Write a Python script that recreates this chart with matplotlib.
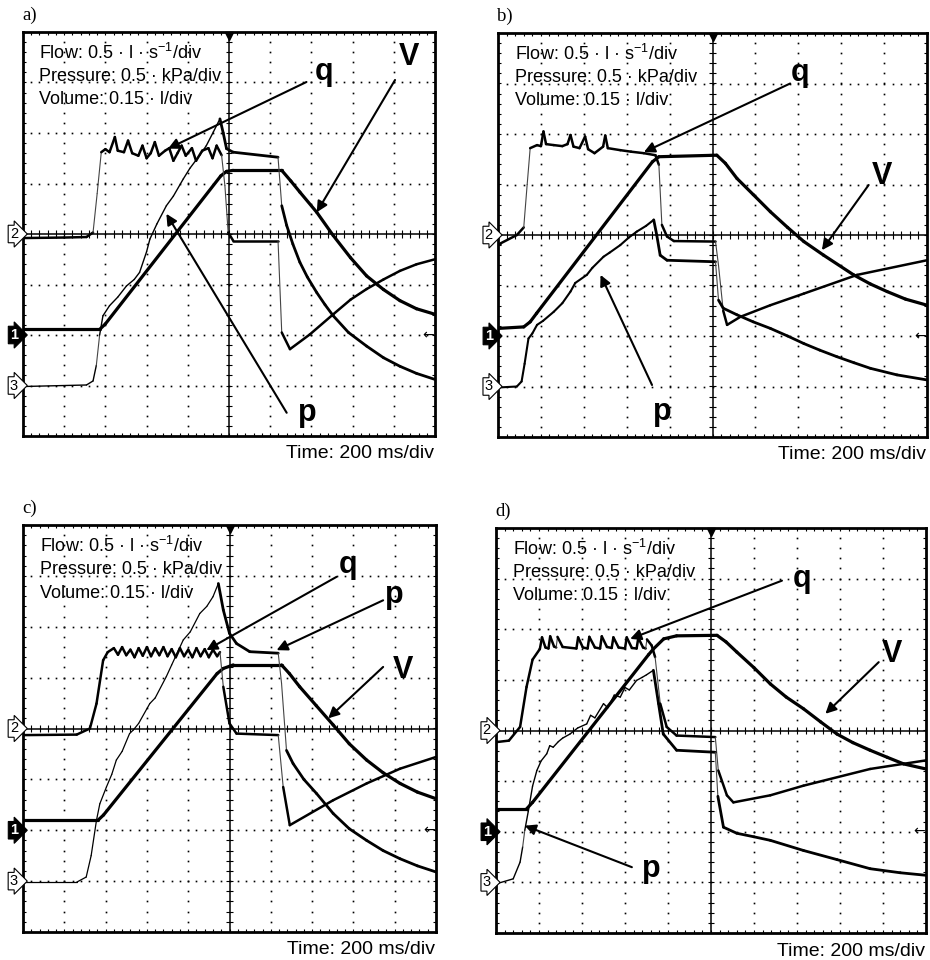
import numpy as np
import matplotlib
matplotlib.use("Agg")
import matplotlib.pyplot as plt
from matplotlib.collections import LineCollection
from matplotlib.transforms import blended_transform_factory

plt.rcParams['font.family'] = ['Liberation Sans', 'DejaVu Sans']
plt.rcParams['mathtext.fontset'] = 'custom'
plt.rcParams['mathtext.rm'] = 'Liberation Sans'
plt.rcParams['mathtext.it'] = 'Liberation Sans:italic'
plt.rcParams['mathtext.bf'] = 'Liberation Sans:bold'

# ---------------- data (time and signal in screen divisions) ----------------
panel_letters = ["a)", "b)", "c)", "d)"]
info_lines = ["Flow: 0.5 · l · s$^{-1}$/div", "Pressure: 0.5 · kPa/div", "Volume: 0.15 · l/div"]
time_label = "Time: 200 ms/div"
channel_labels = ["2", "1", "3"]
channel_levels = [0.0, -2.0, -3.0]

# panel a
a_q_t = [0, 1.0, 1.54, 1.70, 1.80, 1.90, 2.0, 2.1, 2.23, 2.3, 2.45, 2.55, 2.65, 2.8, 2.9, 3.0,
         3.1, 3.2, 3.3, 3.45, 3.55, 3.65, 3.75, 3.85, 3.95, 4.1, 4.2, 4.35, 4.5, 4.6, 4.7, 4.82,
         4.9, 4.98, 5.1, 6.19, 6.28, 6.48, 6.96, 7.53, 7.95, 8.34, 8.75, 9.15, 9.55, 10.0]
a_q = [-0.08, -0.07, -0.06, 0.03, 0.8, 1.62, 1.68, 1.62, 1.92, 1.65, 1.62, 1.85, 1.6, 1.55, 1.75, 1.5,
       1.6, 1.82, 1.55, 1.65, 1.7, 1.45, 1.6, 1.75, 1.55, 1.7, 1.45, 1.65, 1.7, 1.5, 1.75, 1.56,
       0.96, 0.03, -0.13, -0.13, -1.95, -2.28, -1.99, -1.59, -1.3, -1.09, -0.9, -0.73, -0.6, -0.5]
a_p_t = [0, 1.54, 1.70, 1.78, 1.86, 1.94, 2.1, 2.3, 2.51, 2.7, 2.83, 3.0, 3.08, 3.25, 3.48, 3.65,
         3.89, 4.05, 4.29, 4.45, 4.62, 4.78, 4.86, 4.94, 5.1, 6.19, 6.28, 6.4, 6.55, 6.72, 6.9,
         7.13, 7.33, 7.53, 7.9, 8.34, 8.75, 9.15, 9.55, 10.0]
a_p = [-3.02, -2.99, -2.91, -2.6, -2.0, -1.62, -1.42, -1.25, -1.03, -0.9, -0.76, -0.35, -0.1, 0.2,
       0.56, 0.75, 1.09, 1.3, 1.56, 1.75, 2.02, 2.28, 2.0, 1.69, 1.62, 1.52, 0.56, 0.17, -0.2,
       -0.56, -0.85, -1.16, -1.4, -1.62, -1.95, -2.22, -2.45, -2.62, -2.76, -2.88]
a_V_t = [0, 1.86, 2.0, 4.8, 4.94, 5.1, 6.28, 6.5, 6.72, 7.13, 7.53, 7.95, 8.34, 8.75, 9.15, 9.55, 10.0]
a_V = [-1.89, -1.89, -1.78, 1.15, 1.24, 1.26, 1.26, 1.05, 0.83, 0.43, -0.03, -0.47, -0.83, -1.1,
       -1.32, -1.48, -1.59]

# panel b
b_q_t = [0, 0.05, 0.44, 0.6, 0.68, 0.75, 0.91, 1.0, 1.06, 1.12, 1.3, 1.5, 1.62, 1.69, 1.76, 1.9,
         2.03, 2.1, 2.25, 2.45, 2.5, 2.56, 2.85, 3.1, 3.4, 3.67, 3.75, 3.82, 3.94, 4.1, 5.07, 5.14,
         5.25, 5.34, 5.65, 6.35, 7.13, 8.37, 10.0]
b_q = [-0.17, -0.17, 0.0, 0.15, 1.0, 1.72, 1.78, 1.76, 2.05, 1.8, 1.78, 1.76, 1.8, 1.98, 1.75, 1.72,
       1.95, 1.7, 1.62, 1.75, 1.97, 1.72, 1.68, 1.65, 1.62, 1.58, 1.39, 0.2, -0.03, -0.12, -0.13,
       -0.6, -1.5, -1.78, -1.62, -1.39, -1.16, -0.79, -0.5]
b_p_t = [0, 0.44, 0.55, 0.62, 0.71, 0.8, 0.91, 1.05, 1.3, 1.5, 1.69, 1.8, 2.07, 2.2, 2.46, 2.6,
         2.85, 3.05, 3.24, 3.45, 3.63, 3.7, 3.78, 3.94, 5.07, 5.14, 5.25, 5.57, 5.95, 6.35, 6.75,
         7.13, 7.5, 7.9, 8.3, 8.68, 9.3, 10.0]
b_p = [-3.02, -3.0, -2.9, -2.55, -2.05, -1.95, -1.78, -1.7, -1.52, -1.35, -1.12, -0.95, -0.79,
       -0.65, -0.43, -0.35, -0.2, -0.05, 0.07, 0.18, 0.3, 0.0, -0.4, -0.5, -0.53, -1.29, -1.45,
       -1.58, -1.72, -1.85, -2.0, -2.15, -2.28, -2.41, -2.53, -2.64, -2.77, -2.87]
b_V_t = [0, 0.6, 0.75, 0.9, 3.6, 3.75, 5.1, 5.3, 5.57, 5.95, 6.35, 6.75, 7.13, 7.59, 8.29, 8.68,
         9.07, 9.5, 10.0]
b_V = [-1.85, -1.82, -1.72, -1.55, 1.45, 1.55, 1.58, 1.42, 1.12, 0.8, 0.46, 0.15, -0.13, -0.4,
       -0.79, -0.97, -1.12, -1.27, -1.39]

# panel c
c_q_t = [0, 1.3, 1.62, 1.78, 1.94, 2.05, 2.2, 2.3, 2.4, 2.5, 2.6, 2.7, 2.8, 2.9, 3.0, 3.1, 3.2,
         3.3, 3.4, 3.5, 3.6, 3.7, 3.8, 3.9, 4.0, 4.1, 4.2, 4.3, 4.4, 4.5, 4.6, 4.7, 4.77, 4.85,
         5.0, 5.17, 6.18, 6.3, 6.46, 7.51, 8.32, 9.13, 10.0]
c_q = [-0.13, -0.12, 0.0, 0.49, 1.34, 1.5, 1.58, 1.45, 1.6, 1.44, 1.55, 1.4, 1.58, 1.43, 1.6, 1.42,
       1.58, 1.44, 1.6, 1.42, 1.56, 1.4, 1.58, 1.42, 1.55, 1.4, 1.58, 1.42, 1.56, 1.4, 1.55, 1.42,
       1.5, 0.82, 0.1, -0.1, -0.13, -1.15, -1.9, -1.41, -1.08, -0.79, -0.56]
c_p_t = [0, 1.3, 1.53, 1.65, 1.78, 1.86, 2.02, 2.15, 2.26, 2.4, 2.58, 2.67, 2.8, 3.07, 3.2, 3.47,
         3.6, 3.88, 4.05, 4.28, 4.45, 4.6, 4.73, 4.85, 5.0, 5.17, 5.49, 6.18, 6.26, 6.38, 6.54,
         6.8, 7.11, 7.51, 7.9, 8.32, 8.72, 9.13, 9.55, 10.0]
c_p = [-3.02, -3.02, -2.92, -2.5, -1.8, -1.48, -1.15, -0.9, -0.62, -0.45, -0.1, -0.03, 0.1, 0.49,
       0.6, 1.02, 1.25, 1.74, 1.9, 2.26, 2.4, 2.59, 2.85, 2.33, 1.87, 1.67, 1.51, 1.48, 0.89,
       -0.43, -0.69, -1.0, -1.28, -1.67, -1.97, -2.2, -2.4, -2.56, -2.7, -2.82]
c_V_t = [0, 1.82, 1.95, 4.7, 4.85, 5.09, 6.26, 6.45, 6.7, 7.1, 7.51, 7.9, 8.32, 8.72, 9.13, 9.55, 10.0]
c_V = [-1.8, -1.8, -1.7, 1.08, 1.18, 1.25, 1.25, 1.08, 0.82, 0.45, 0.07, -0.3, -0.62, -0.87,
       -1.08, -1.25, -1.38]

# panel d
d_q_t = [0, 0.3, 0.56, 0.71, 0.85, 1.02, 1.07, 1.15, 1.22, 1.26, 1.35, 1.40, 1.43, 1.55, 1.87,
         1.91, 2.02, 2.13, 2.17, 2.3, 2.42, 2.46, 2.58, 2.69, 2.73, 2.85, 3.0, 3.04, 3.16, 3.27,
         3.31, 3.42, 3.48, 3.51, 3.62, 3.7, 3.82, 3.97, 4.2, 5.1, 5.17, 5.37, 5.52, 6.38, 7.15,
         8.7, 10.0]
d_q = [-0.23, -0.2, 0.07, 0.86, 1.4, 1.61, 1.84, 1.64, 1.62, 1.86, 1.66, 1.64, 1.85, 1.65, 1.62,
       1.84, 1.64, 1.62, 1.85, 1.64, 1.62, 1.86, 1.65, 1.63, 1.84, 1.64, 1.62, 1.84, 1.63, 1.62,
       1.83, 1.64, 1.62, 1.8, 1.68, 1.45, 0.53, 0.07, -0.1, -0.13, -0.79, -1.28, -1.42, -1.28,
       -1.09, -0.76, -0.59]
d_p_t = [0, 0.4, 0.56, 0.62, 0.67, 0.75, 0.85, 0.95, 1.05, 1.18, 1.25, 1.33, 1.45, 1.55, 1.72,
         1.9, 2.11, 2.2, 2.3, 2.5, 2.6, 2.75, 2.89, 3.0, 3.1, 3.27, 3.4, 3.5, 3.66, 3.78, 3.89,
         4.2, 5.1, 5.16, 5.29, 5.6, 6.0, 6.38, 7.15, 7.93, 8.7, 9.4, 10.0]
d_p = [-3.03, -2.93, -2.6, -2.3, -1.97, -1.6, -1.1, -0.79, -0.6, -0.46, -0.3, -0.33, -0.22, -0.15,
       -0.07, 0.05, 0.13, 0.3, 0.25, 0.53, 0.45, 0.7, 0.66, 0.85, 0.8, 0.99, 1.05, 1.1, 1.19, 0.53,
       -0.07, -0.39, -0.43, -1.3, -1.91, -2.03, -2.1, -2.17, -2.37, -2.55, -2.73, -2.81, -2.86]
d_V_t = [0, 0.71, 0.85, 3.55, 3.66, 3.9, 4.2, 5.14, 5.35, 5.6, 6.0, 6.38, 6.75, 7.15, 7.55, 7.93,
         8.3, 8.7, 9.1, 9.48, 10.0]
d_V = [-1.55, -1.55, -1.42, 1.5, 1.61, 1.81, 1.87, 1.88, 1.75, 1.55, 1.24, 0.92, 0.66, 0.43, 0.17,
       -0.07, -0.24, -0.39, -0.53, -0.66, -0.76]

# annotation labels: (text, label position, arrow tail, arrow head) in divisions
a_notes = [("q", (7.3, 3.2), (6.88, 3.01), (3.52, 1.69)),
           ("V", (9.36, 3.5), (9.03, 3.05), (7.13, 0.43)),
           ("p", (6.9, -3.55), (6.4, -3.54), (3.48, 0.40))]
b_notes = [("q", (7.05, 3.2), (6.81, 3.0), (3.4, 1.64)),
           ("V", (8.95, 1.16), (8.64, 0.99), (7.55, -0.3)),
           ("p", (3.82, -3.5), (3.59, -2.97), (2.39, -0.79))]
c_notes = [("q", (7.88, 3.21), (7.59, 2.98), (4.44, 1.54)),
           ("p", (9.0, 2.62), (8.72, 2.52), (6.14, 1.54)),
           ("V", (9.21, 1.15), (8.72, 1.21), (7.39, 0.2))]
d_notes = [("q", (7.11, 3.0), (6.65, 2.96), (3.12, 1.81)),
           ("V", (9.21, 1.51), (8.9, 1.35), (7.66, 0.33)),
           ("p", (3.62, -2.73), (3.16, -2.7), (0.67, -1.88))]

panels = [
    dict(q=(a_q_t, a_q), p=(a_p_t, a_p), V=(a_V_t, a_V), notes=a_notes),
    dict(q=(b_q_t, b_q), p=(b_p_t, b_p), V=(b_V_t, b_V), notes=b_notes),
    dict(q=(c_q_t, c_q), p=(c_p_t, c_p), V=(c_V_t, c_V), notes=c_notes),
    dict(q=(d_q_t, d_q), p=(d_p_t, d_p), V=(d_V_t, d_V), notes=d_notes),
]

# ---------------- layout (pixels) ----------------
W, H = 930, 960
boxes = [(23, 435, 32, 436), (498, 927, 33, 437), (23, 436, 525, 932), (496, 926, 528, 933)]
p_ramp_lw = [1.0, 1.5, 0.9, 1.0]

fig = plt.figure(figsize=(W / 100, H / 100), dpi=100)
fig.patch.set_facecolor("white")


def draw_trace(ax, t, y, lw, steep=6.0, ramp_lw=None):
    t = np.asarray(t, float)
    y = np.asarray(y, float)
    pts = np.column_stack([t, y])
    segs = np.stack([pts[:-1], pts[1:]], axis=1)
    dt = np.diff(t)
    dy = np.diff(y)
    slope = np.abs(dy) / np.maximum(dt, 1e-6)
    ipk = int(np.argmax(y))
    widths, colors = [], []
    for i in range(len(segs)):
        if slope[i] > steep:
            widths.append(0.8)
            colors.append("#444444")
        elif ramp_lw is not None and i < ipk:
            widths.append(ramp_lw)
            colors.append("black")
        else:
            widths.append(lw)
            colors.append("black")
    lc = LineCollection(segs, linewidths=widths, colors=colors, capstyle="round",
                        joinstyle="round", zorder=4)
    ax.add_collection(lc)


def graticule(ax):
    ys = np.arange(-4, 4.001, 0.2)
    xs = np.arange(0, 10.001, 0.2)
    for i in range(1, 10):
        if i != 5:
            ax.plot(np.full_like(ys, i), ys, ls="none", marker="s", ms=1.2, mew=0,
                    color="black", zorder=2)
    for j in range(-3, 4):
        if j != 0:
            ax.plot(xs, np.full_like(xs, j), ls="none", marker="s", ms=1.2, mew=0,
                    color="black", zorder=2)
    ax.axhline(0, color="black", lw=1.1, zorder=2)
    ax.axvline(5, color="black", lw=1.1, zorder=2)
    tk = np.arange(0.2, 10, 0.2)
    ax.vlines(tk, -0.07, 0.07, color="black", lw=0.8, zorder=2)
    tk2 = np.arange(-3.8, 4, 0.2)
    ax.hlines(tk2, 4.92, 5.08, color="black", lw=0.8, zorder=2)


for k, (box, pan) in enumerate(zip(boxes, panels)):
    L, R, T, B = box
    ax = fig.add_axes([L / W, 1 - B / H, (R - L) / W, (B - T) / H])
    ax.set_xlim(0, 10)
    ax.set_ylim(-4, 4)
    for s in ax.spines.values():
        s.set_linewidth(2.0)
    ax.set_xticks([])
    ax.set_yticks([])
    ax.set_xticks(np.arange(0.2, 10, 0.2), minor=True)
    ax.set_yticks(np.arange(-3.8, 4, 0.2), minor=True)
    ax.tick_params(which="minor", direction="in", length=2.5, width=0.8,
                   top=True, right=True, labelbottom=False, labelleft=False)
    graticule(ax)

    draw_trace(ax, *pan["V"], lw=2.3)
    draw_trace(ax, *pan["q"], lw=1.8)
    draw_trace(ax, *pan["p"], lw=2.0, ramp_lw=p_ramp_lw[k])

    # info text
    for i, line in enumerate(info_lines):
        ax.text(0.4, 3.58 - 0.46 * i, line, fontsize=13, va="center", ha="left", zorder=5)

    # labels and arrows
    for lab, lpos, tail, head in pan["notes"]:
        ax.text(lpos[0], lpos[1], lab, fontsize=22, fontweight="bold", ha="center",
                va="center", zorder=6)
        ax.annotate("", xy=head, xytext=tail,
                    arrowprops=dict(arrowstyle="-|>", lw=1.5, color="black",
                                    mutation_scale=16, shrinkA=0, shrinkB=0), zorder=6)

    # trigger markers
    ax.plot([5], [3.93], marker="v", ms=6, color="black", clip_on=False, zorder=6)
    ax.text(9.98, -2.0, "←", fontsize=10, family="DejaVu Sans", ha="right",
            va="center", zorder=6)

    # channel markers
    tr = blended_transform_factory(ax.transAxes, ax.transData)
    for lab, lev in zip(channel_labels, channel_levels):
        filled = (lab == "1")
        ax.text(-0.012, lev, lab, transform=tr, ha="right", va="center", fontsize=10.5,
                fontweight="bold" if filled else "normal",
                color="white" if filled else "black", clip_on=False, zorder=7,
                bbox=dict(boxstyle="rarrow,pad=0.12", fc="black" if filled else "white",
                          ec="black", lw=0.8))

    # panel letter and time label
    fig.text((L - 1) / W, 1 - (T - 17) / H, panel_letters[k], fontsize=13.5,
             family="Liberation Serif", ha="left", va="center")
    fig.text((R - 1) / W, 1 - (B + 18) / H, time_label, fontsize=14, ha="right", va="center")

fig.savefig("out.png", dpi=100, facecolor="white")
